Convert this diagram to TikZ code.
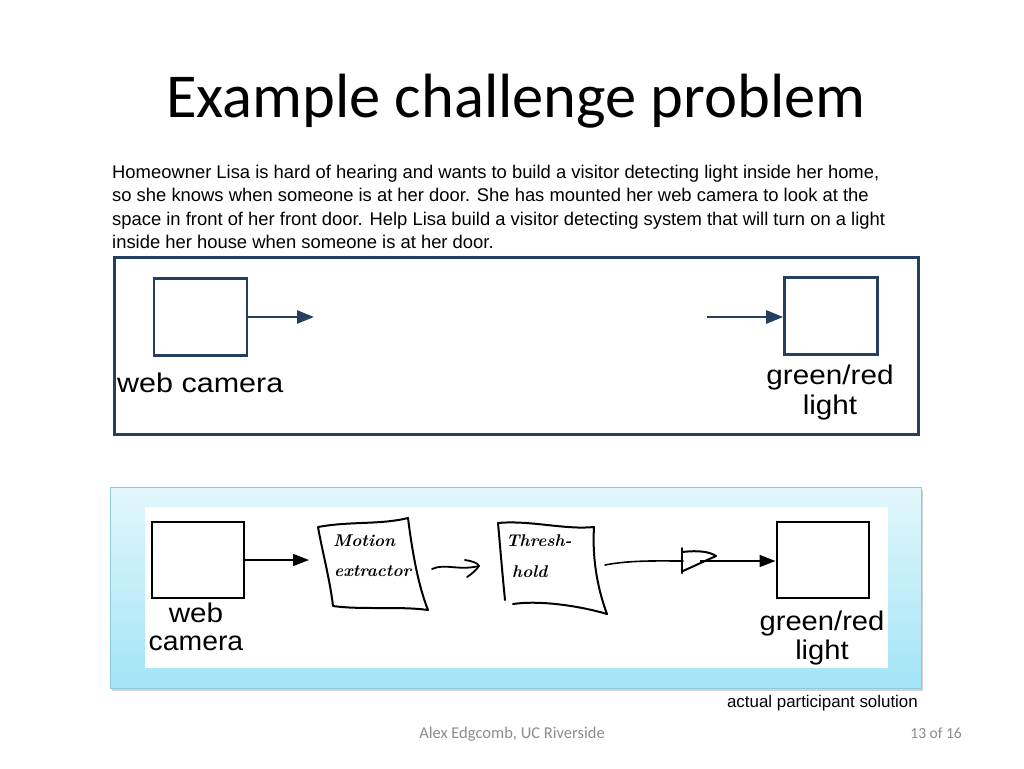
\documentclass[tikz,border=0pt]{standalone}
\usepackage{fontspec}
\newfontfamily\arial{Liberation Sans}
\newfontfamily\calibri{Carlito}
\usetikzlibrary{arrows.meta,shadows}
\definecolor{navy}{HTML}{243F60}
\definecolor{paneltop}{HTML}{E2F7FD}
\definecolor{panelbot}{HTML}{A3E4F6}
\definecolor{panelline}{HTML}{8CCBDA}
\definecolor{footgray}{HTML}{8C8C8C}
\begin{document}
\begin{tikzpicture}[x=1pt,y=-1pt,
  navybox/.style={draw=navy, line width=2.6pt, minimum width=93pt, minimum height=77pt, inner sep=0pt},
  inkbox/.style={draw=black, line width=2pt, minimum width=92pt, minimum height=76pt, inner sep=0pt},
  navyarrow/.style={draw=navy, line width=2.6pt, -{Triangle[length=17pt,width=13pt]}},
  inkarrow/.style={draw=black, line width=1.6pt, -{Triangle[length=16pt,width=12pt]}},
  sketch/.style={draw=black, line width=2pt, line cap=round, line join=round},
  lbl/.style={font=\arial\fontsize{27}{30}\selectfont, inner sep=0pt},
  para/.style={font=\arial\fontsize{18.4}{22}\selectfont, inner sep=0pt, anchor=base west},
  hand/.style={font=\rmfamily\bfseries\itshape\fontsize{17}{20}\selectfont, inner sep=0pt, anchor=base west},
]
\useasboundingbox (0,0) rectangle (1024,768);
\fill[white] (0,0) rectangle (1024,768);

% title
\node[font=\calibri\fontsize{62.5}{70}\selectfont, anchor=base, inner sep=0pt] (title) at (516,117) {Example challenge problem};

% paragraph
\node[para] (p1) at (112,178) {Homeowner Lisa is hard of hearing and wants to build a visitor detecting light inside her home,};
\node[para] (p2) at (112,201) {so she knows when someone is at her door. She has mounted her web camera to look at the};
\node[para] (p3) at (112,225) {space in front of her front door. Help Lisa build a visitor detecting system that will turn on a light};
\node[para] (p4) at (112,248) {inside her house when someone is at her door.};

% top frame
\node[draw=navy, line width=3pt, minimum width=804pt, minimum height=177pt, inner sep=0pt] (frame1) at (516,345.5) {};
\node[navybox] (cam1) at (200.5,317) {};
\node[navybox] (light1) at (831,316) {};
\coordinate (a1) at (314,317);
\coordinate (a2) at (707,317);
\draw[navyarrow] (cam1.east) -- (a1);
\draw[navyarrow] (a2) -- (a2 -| light1.west);
\node[lbl, anchor=base west] (camlbl1) at (117,392) {\scalebox{1.13}[1]{web camera}};
\node[lbl, anchor=base] (ltlbl1a) at (830,384) {\scalebox{1.1}[1]{green/red}};
\node[lbl, anchor=base] (ltlbl1b) at (830,414) {\scalebox{1.1}[1]{light}};

% bottom panel
\node[draw=panelline, line width=0.8pt, top color=paneltop, bottom color=panelbot,
      minimum width=811pt, minimum height=201pt, inner sep=0pt,
      drop shadow={shadow xshift=2pt, shadow yshift=-3pt, opacity=0.35}] (panel) at (515.5,587.5) {};
\node[fill=white, minimum width=743pt, minimum height=161pt, inner sep=0pt] (sheet) at (516.5,587.5) {};

\node[inkbox] (cam2) at (198,560) {};
\node[inkbox] (light2) at (822.5,560) {};
\node[lbl, anchor=base] (camlbl2a) at (196,622) {\scalebox{1.1}[1]{web}};
\node[lbl, anchor=base] (camlbl2b) at (196,650) {\scalebox{1.05}[1]{camera}};
\node[lbl, anchor=base] (ltlbl2a) at (822,630) {\scalebox{1.08}[1]{green/red}};
\node[lbl, anchor=base] (ltlbl2b) at (822,659) {\scalebox{1.08}[1]{light}};

% motion extractor sketch
\draw[sketch] (318,527) .. controls (350,521) and (380,525) .. (408,518)
  .. controls (412,550) and (418,585) .. (428,610)
  .. controls (400,606) and (360,610) .. (333,606)
  .. controls (330,580) and (322,550) .. (318,527) -- cycle;
\node[hand] (motion1) at (333,546) {Motion};
\node[hand] (motion2) at (334,576) {extractor};
\coordinate (mw) at (309,560);
\coordinate (me) at (432,569);
\draw[inkarrow] (cam2.east) -- (mw);

% threshold sketch
\draw[sketch] (505,600) .. controls (502,570) and (500,545) .. (498,523)
  .. controls (530,520) and (565,530) .. (594,527)
  .. controls (592,560) and (598,590) .. (607,614)
  .. controls (580,606) and (540,600) .. (513,604);
\node[hand] (thresh1) at (506,546) {Thresh-};
\node[hand] (thresh2) at (512,577) {hold};
\coordinate (tw) at (479,566);
\coordinate (te) at (605,565);

% squiggle arrow
\draw[sketch, line width=1.8pt] (me) .. controls (445,563) and (458,571) .. (tw);
\draw[sketch, line width=1.8pt] (465,560) .. controls (472,561) and (478,563) .. (tw) .. controls (476,570) and (472,574) .. (467,577);

% threshold to light
\draw[sketch, line width=1.6pt] (te) .. controls (630,560) and (660,561) .. (683,561);
\draw[sketch] (682,548) -- (682,573);
\draw[sketch] (682,552) .. controls (700,550) and (710,552) .. (716,556) -- (683,571);
\draw[inkarrow] (700,561) -- (light2.west |- 0,561);

% captions
\node[font=\arial\fontsize{16.9}{20}\selectfont, anchor=base east, inner sep=0pt] (caption) at (918,707) {actual participant solution};
\node[font=\calibri\fontsize{16.5}{18}\selectfont, text=footgray, anchor=base, inner sep=0pt] (footer) at (512,738) {Alex Edgcomb, UC Riverside};
\node[font=\calibri\fontsize{15.5}{18}\selectfont, text=footgray, anchor=base east, inner sep=0pt] (page) at (962,738) {13 of 16};
\end{tikzpicture}
\end{document}
